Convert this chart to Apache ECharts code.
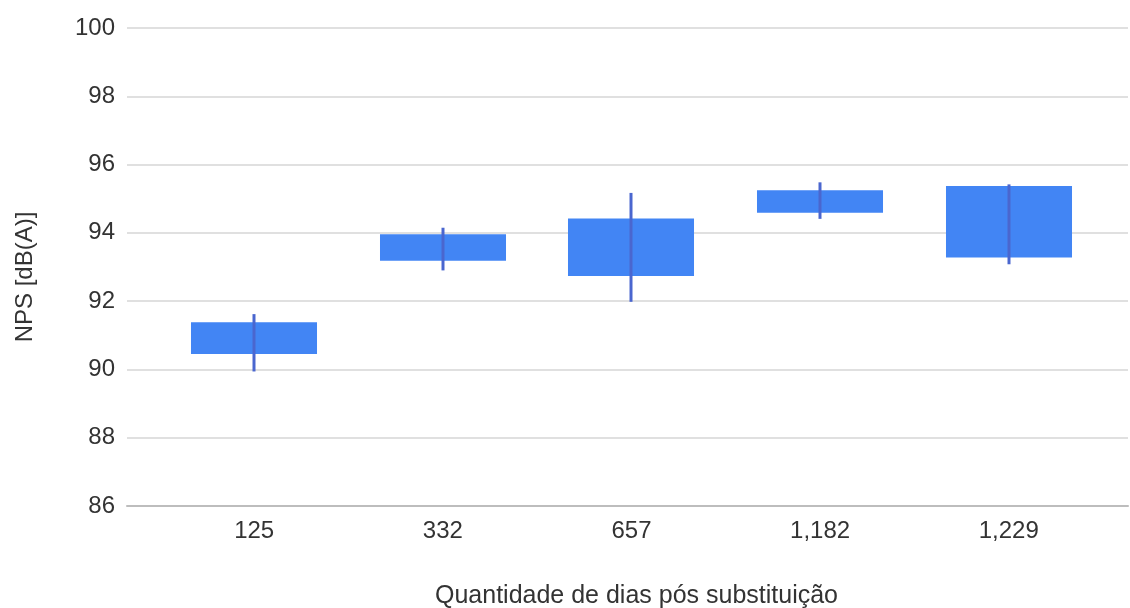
<!DOCTYPE html>
<html>
<head>
<meta charset="utf-8">
<title>NPS por dias pós substituição</title>
<script src="https://cdn.jsdelivr.net/npm/echarts@6/dist/echarts.min.js"></script>
<style>
  html, body { margin: 0; padding: 0; background: #ffffff; }
  #chart { width: 1130px; height: 608px; }
</style>
</head>
<body>
<div id="chart"></div>
<script>
// Days after replacement (category labels)
const categories = ['125', '332', '657', '1,182', '1,229'];
// Whisker ends and box edges, NPS in dB(A)
const whiskerLow  = [89.94, 92.90, 91.98, 94.41, 93.08];
const boxLow      = [90.45, 93.18, 92.74, 94.59, 93.28];
const boxHigh     = [91.38, 93.96, 94.42, 95.25, 95.37];
const whiskerHigh = [91.62, 94.15, 95.17, 95.48, 95.42];
// Y axis ticks
const yTicks = [86, 88, 90, 92, 94, 96, 98, 100];

const FONT = '"Liberation Sans", Arial, sans-serif';
const TEXT = '#333333';
const BOX_COLOR = '#4285f4';
const WHISKER_COLOR = '#4a66cf';
const BOX_WIDTH = 0.668; // in category units

const seriesData = categories.map((c, i) => [i, whiskerLow[i], boxLow[i], boxHigh[i], whiskerHigh[i]]);

function renderBox(params, api) {
  const i = api.value(0);
  const pWl = api.coord([i, api.value(1)]);
  const pBl = api.coord([i, api.value(2)]);
  const pBh = api.coord([i, api.value(3)]);
  const pWh = api.coord([i, api.value(4)]);
  const w = api.size([BOX_WIDTH, 0])[0];
  const x = Math.round(pBh[0]);
  return {
    type: 'group',
    children: [
      {
        type: 'rect',
        shape: { x: x - w / 2, y: pBh[1], width: w, height: pBl[1] - pBh[1] },
        style: { fill: BOX_COLOR }
      },
      {
        type: 'line',
        shape: { x1: x, y1: pWh[1], x2: x, y2: pWl[1] },
        style: { stroke: WHISKER_COLOR, lineWidth: 3 }
      }
    ]
  };
}

const chart = echarts.init(document.getElementById('chart'), null, { renderer: 'canvas' });
chart.setOption({
  backgroundColor: '#ffffff',
  animation: false,
  textStyle: { fontFamily: FONT },
  grid: { left: 127, right: 2, top: 28, bottom: 102, containLabel: false, outerBoundsMode: 'none' },
  xAxis: {
    type: 'value',
    min: -0.674,
    max: 4.632,
    name: 'Quantidade de dias pós substituição',
    nameLocation: 'middle',
    nameGap: 78,
    nameTextStyle: { fontFamily: FONT, fontSize: 25, color: TEXT, padding: [0, 0, 0, 18] },
    axisLine: { show: true, lineStyle: { color: '#bdbdbd', width: 2 } },
    axisTick: { show: false },
    splitLine: { show: false },
    axisLabel: {
      customValues: categories.map((c, i) => i),
      formatter: (v) => categories[Math.round(v)],
      fontFamily: FONT,
      fontSize: 24,
      color: TEXT,
      margin: 13
    }
  },
  yAxis: {
    type: 'value',
    min: yTicks[0],
    max: yTicks[yTicks.length - 1],
    interval: 2,
    name: 'NPS [dB(A)]',
    nameLocation: 'middle',
    nameGap: 90,
    nameTextStyle: { fontFamily: FONT, fontSize: 24, color: TEXT, padding: [0, 20, 0, 0] },
    axisLine: { show: false },
    axisTick: { show: false },
    axisLabel: { fontFamily: FONT, fontSize: 24, color: TEXT, margin: 12 },
    splitLine: { show: true, lineStyle: { color: '#d6d6d6', width: 1.5 } }
  },
  series: [{
    type: 'custom',
    renderItem: renderBox,
    encode: { x: 0, y: [1, 2, 3, 4] },
    data: seriesData
  }]
});
</script>
</body>
</html>
